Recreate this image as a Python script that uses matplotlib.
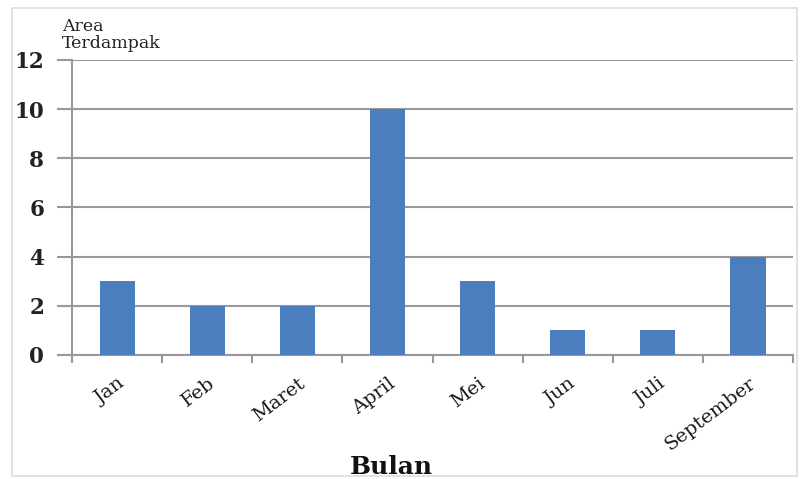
import matplotlib
matplotlib.use("Agg")
import matplotlib.pyplot as plt
from matplotlib.patches import Rectangle
from matplotlib.ticker import FixedLocator, NullFormatter

months = ["Jan", "Feb", "Maret", "April", "Mei", "Jun", "Juli", "September"]
affected_areas = [3, 2, 2, 10, 3, 1, 1, 4]
y_ticks = [0, 2, 4, 6, 8, 10, 12]

plt.rcParams["font.family"] = ["DejaVu Serif"]

fig = plt.figure(figsize=(8.03, 4.79), dpi=100)
ax = fig.add_axes([0.0897, 0.259, 0.898, 0.616])

x = list(range(len(months)))
ax.bar(x, affected_areas, width=0.39, color="#4A7EBF", zorder=3)

ax.set_xlim(-0.5, len(months) - 0.5)
ax.set_ylim(0, 12)
ax.set_yticks(y_ticks)
ax.set_yticklabels([str(v) for v in y_ticks], fontsize=15.5, fontweight="bold",
                   color="#222222")
ax.yaxis.grid(True, color="#999999", linewidth=1.5, zorder=0)

# category labels centred on bars, tick marks on category boundaries
ax.set_xticks(x)
ax.set_xticklabels(months, rotation=37, ha="right", va="top",
                   rotation_mode="anchor", fontsize=14, color="#1a1a1a",
                   fontweight="medium")
ax.tick_params(axis="x", which="major", length=0, pad=14)
ax.xaxis.set_minor_locator(FixedLocator([i - 0.5 for i in range(len(months) + 1)]))
ax.xaxis.set_minor_formatter(NullFormatter())
ax.tick_params(axis="x", which="minor", length=6, width=1.5, color="#999999")
ax.tick_params(axis="y", length=11, width=1.5, color="#999999", pad=9)

for side in ("top", "right"):
    ax.spines[side].set_visible(False)
for side in ("left", "bottom"):
    ax.spines[side].set_color("#999999")
    ax.spines[side].set_linewidth(1.5)

fig.text(0.077, 0.927, "Area\nTerdampak", fontsize=12.5, ha="left", va="center",
         linespacing=1.0, color="#222222")
fig.text(0.487, 0.025, "Bulan", fontsize=18, fontweight="bold",
         ha="center", va="center", color="#111111")

fig.add_artist(Rectangle((0.015, 0.006), 0.977, 0.978, transform=fig.transFigure,
                         fill=False, edgecolor="#dddddd", linewidth=1.2))

fig.savefig("out.png", dpi=100)
